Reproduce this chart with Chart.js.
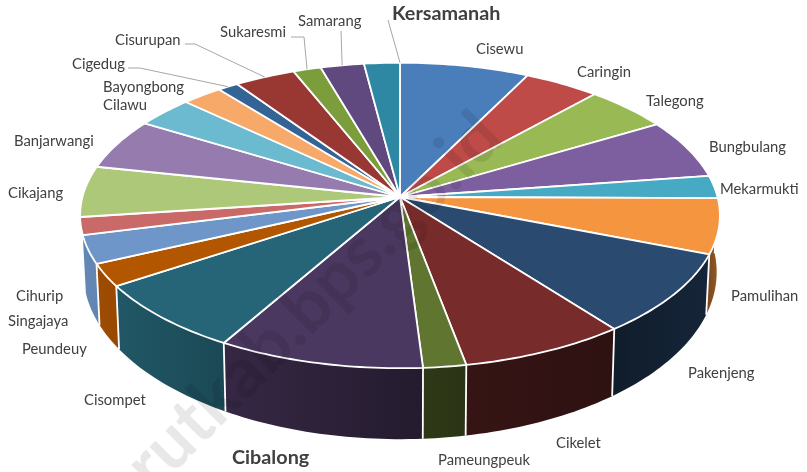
<!DOCTYPE html>
<html>
<head>
<meta charset="utf-8">
<title>Kecamatan</title>
<script src="https://cdn.jsdelivr.net/npm/chart.js@4"></script>
<style>
    html, body { margin: 0; padding: 0; background: #fff; }
    #wrap { width: 807px; height: 472px; }
    canvas { filter: blur(0.35px); }
</style>
</head>
<body>
<div id="wrap"><canvas id="myChart" width="807" height="472"></canvas></div>
<script>
const kecamatan = ['Cisewu', 'Caringin', 'Talegong', 'Bungbulang', 'Mekarmukti', 'Pamulihan', 'Pakenjeng', 'Cikelet',
    'Pameungpeuk', 'Cibalong', 'Cisompet', 'Peundeuy', 'Singajaya', 'Cihurip', 'Cikajang', 'Banjarwangi',
    'Cilawu', 'Bayongbong', 'Cigedug', 'Cisurupan', 'Sukaresmi', 'Samarang', 'Kersamanah'];
const nilai = [7.35, 4.29, 4.81, 6.28, 2.39, 5.83, 8.61, 7.5, 1.93, 9.29, 7.42, 2.39, 2.97, 1.86, 5.39, 5.39,
    3.28, 2.31, 1.17, 3.47, 1.58, 2.47, 2.03];
const warna = ['#4a7ebb', '#be4b48', '#98b954', '#7d5fa0', '#46aac4', '#f59540', '#2a4a70', '#772b2b',
    '#5f7530', '#4b3860', '#266577', '#b25600', '#6f96c8', '#c96a68', '#acc878', '#957bae',
    '#6bbacf', '#f6a969', '#346496', '#993733', '#7b9d3c', '#60497f', '#2f88a3'];

// tilt of the disc, stretch of the chart's radius on screen
const TILT = 0.121;
const STRETCH_X = 319 / 197;
const STRETCH_Y = 151.2 / 197;
const SHADE = [[90, 0.6], [140, 0.38], [175, 0.47], [210, 0.72], [240, 0.88], [270, 0.92], [360, 0.92]];

// label placement: name -> left x, middle y, optional start and elbow for the leader line
const etiqueta = {
    Kersamanah: { x: 392, y: 14, bold: true, from: [388, 20], at: 1 },
    Cisewu: { x: 476, y: 49 }, Caringin: { x: 577, y: 72 }, Talegong: { x: 646, y: 101 },
    Bungbulang: { x: 709, y: 147 }, Mekarmukti: { x: 720, y: 189 }, Pamulihan: { x: 731, y: 296 },
    Pakenjeng: { x: 688, y: 373 }, Cikelet: { x: 556, y: 443 }, Pameungpeuk: { x: 438, y: 460 },
    Cibalong: { x: 232, y: 458, bold: true }, Cisompet: { x: 84, y: 400 }, Peundeuy: { x: 22, y: 349 },
    Singajaya: { x: 8, y: 321 }, Cihurip: { x: 16, y: 296 }, Cikajang: { x: 8, y: 193 },
    Banjarwangi: { x: 14, y: 141 }, Cilawu: { x: 103, y: 105 }, Bayongbong: { x: 103, y: 87 },
    Cigedug: { x: 72, y: 64, from: [128, 68], elbow: [140, 68] },
    Cisurupan: { x: 115, y: 40, from: [185, 44], elbow: [195, 44] },
    Sukaresmi: { x: 220, y: 32, from: [291, 37], elbow: [304, 37] },
    Samarang: { x: 298, y: 21, from: [341, 31] }
};

function rim(el, a, bottom) {
    const u = Math.cos(a), v = Math.sin(a), w = 1 - TILT * v;
    const r = el.outerRadius;
    let x = el.x + STRETCH_X * r * u / w;
    let y = el.y + STRETCH_Y * r * v / w;
    if (bottom) {
        x = el.x + (x - el.x) * 0.99;
        y = y + 55 + 14 * v / w;
    }
    return [x, y];
}

function arco(el, a0, a1) {
    const puntos = [];
    const n = Math.max(2, Math.ceil((a1 - a0) / 0.02));
    for (let i = 0; i <= n; i++) puntos.push(a0 + (a1 - a0) * i / n);
    return puntos;
}

function sombra(a) {
    const deg = a * 180 / Math.PI + 90;
    for (let i = 1; i < SHADE.length; i++) {
        if (deg <= SHADE[i][0]) {
            const t = Math.max(0, (deg - SHADE[i - 1][0]) / (SHADE[i][0] - SHADE[i - 1][0]));
            return SHADE[i - 1][1] + (SHADE[i][1] - SHADE[i - 1][1]) * t;
        }
    }
    return SHADE[SHADE.length - 1][1];
}

function oscurecer(hex, f) {
    const n = parseInt(hex.slice(1), 16);
    return `rgb(${Math.round((n >> 16) * f)},${Math.round(((n >> 8) & 255) * f)},${Math.round((n & 255) * f)})`;
}

const pie3d = {
    id: 'pie3d',
    beforeDatasetsDraw(chart) {
        const ctx = chart.ctx;
        const arcs = chart.getDatasetMeta(0).data;
        ctx.save();
        ctx.lineJoin = 'round';

        // side walls first, the top faces cover the back part
        arcs.forEach(el => {
            const a0 = el.startAngle, a1 = el.endAngle;
            const mid = (a0 + a1) / 2;
            // walls on the far left stay hidden behind the silhouette
            if (Math.cos(mid) < 0 && Math.sin(mid) < 0.25) return;
            const puntos = arco(el, a0, a1);
            const p0 = rim(el, a0), p1 = rim(el, a1);
            const g = ctx.createLinearGradient(p0[0], 0, p1[0] === p0[0] ? p0[0] + 1 : p1[0], 0);
            g.addColorStop(0, oscurecer(el.options.backgroundColor, sombra(a0)));
            g.addColorStop(1, oscurecer(el.options.backgroundColor, sombra(a1)));
            ctx.beginPath();
            puntos.forEach((a, i) => {
                const p = rim(el, a);
                if (i === 0) ctx.moveTo(p[0], p[1]); else ctx.lineTo(p[0], p[1]);
            });
            puntos.slice().reverse().forEach(a => {
                const p = rim(el, a, true);
                ctx.lineTo(p[0], p[1]);
            });
            ctx.closePath();
            ctx.fillStyle = g;
            ctx.fill();

            const b0 = rim(el, a0, true);
            ctx.beginPath();
            ctx.moveTo(p0[0], p0[1]);
            ctx.lineTo(b0[0], b0[1]);
            ctx.strokeStyle = el.options.borderColor;
            ctx.lineWidth = el.options.borderWidth;
            ctx.stroke();
        });

        // top faces
        arcs.forEach(el => {
            ctx.beginPath();
            ctx.moveTo(el.x, el.y);
            arco(el, el.startAngle, el.endAngle).forEach(a => {
                const p = rim(el, a);
                ctx.lineTo(p[0], p[1]);
            });
            ctx.closePath();
            ctx.fillStyle = el.options.backgroundColor;
            ctx.fill();
            ctx.strokeStyle = el.options.borderColor;
            ctx.lineWidth = el.options.borderWidth;
            ctx.stroke();
        });

        // watermark
        ctx.save();
        ctx.translate(506, 141);
        ctx.rotate(-Math.PI / 4);
        ctx.font = 'bold 70px Lato';
        ctx.textAlign = 'right';
        ctx.textBaseline = 'alphabetic';
        ctx.fillStyle = 'rgba(0,0,0,0.09)';
        ctx.fillText('garutkab.bps.go.id', 0, 0);
        ctx.restore();

        // labels and leader lines
        ctx.textAlign = 'left';
        ctx.textBaseline = 'middle';
        kecamatan.forEach((nombre, i) => {
            const e = etiqueta[nombre];
            ctx.font = e.bold ? 'bold 19.8px Lato' : '14.8px Lato';
            ctx.fillStyle = '#404040';
            ctx.fillText(nombre, e.x, e.y);
            if (e.from) {
                const el = arcs[i];
                const t = e.at === undefined ? 0.5 : e.at;
                const p = rim(el, el.startAngle + (el.endAngle - el.startAngle) * t);
                ctx.beginPath();
                ctx.moveTo(e.from[0], e.from[1]);
                if (e.elbow) ctx.lineTo(e.elbow[0], e.elbow[1]);
                ctx.lineTo(p[0], p[1]);
                ctx.strokeStyle = '#a6a6a6';
                ctx.lineWidth = 1;
                ctx.stroke();
            }
        });
        ctx.restore();
        return false;
    }
};

const ctx = document.getElementById('myChart').getContext('2d');
const myChart = new Chart(ctx, {
    type: 'pie',
    data: {
        labels: kecamatan,
        datasets: [{
            data: nilai,
            backgroundColor: warna,
            borderColor: '#ffffff',
            borderWidth: 1.8
        }]
    },
    options: {
        responsive: false,
        animation: false,
        layout: { padding: { right: 7, bottom: 78 } },
        plugins: { legend: { display: false }, tooltip: { enabled: false } }
    },
    plugins: [pie3d]
});
</script>
</body>
</html>
